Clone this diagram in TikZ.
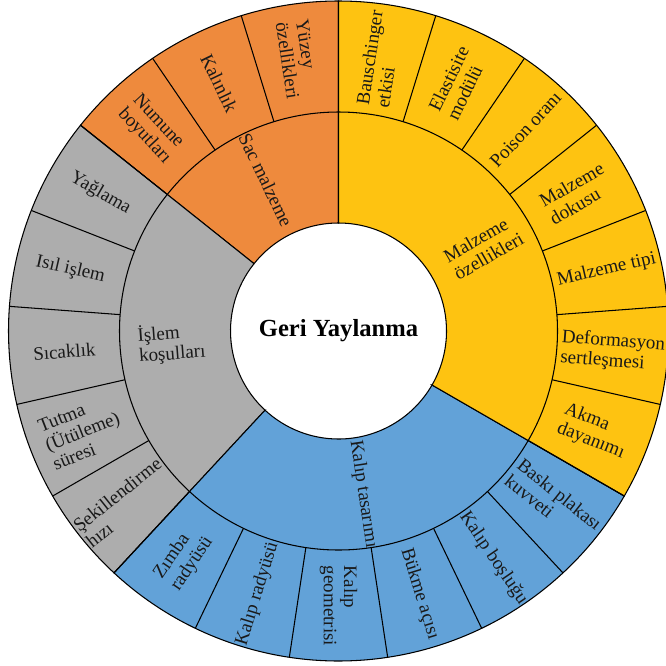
\documentclass[tikz,border=0pt]{standalone}
\usepackage{fontspec}
\setmainfont{Liberation Serif}
\usepackage{tikz}
\usetikzlibrary{positioning, calc}

\definecolor{sacorange}{HTML}{EE8A3D}
\definecolor{islemgray}{HTML}{ADADAD}
\definecolor{kalipblue}{HTML}{62A2D8}
\definecolor{malzyellow}{HTML}{FEC311}

\begin{document}
\begin{tikzpicture}[
    sector/.style={draw=black, line width=0.6pt},
    ringline/.style={draw=black, line width=0.6pt},
    leaflabel/.style={align=left, font=\fontsize{10.8}{11.6}\selectfont, text=black!90, inner sep=0pt},
    catlabel/.style={align=left, font=\fontsize{10.8}{11.6}\selectfont, text=black!90, inner sep=0pt},
    titlelabel/.style={font=\fontsize{14}{16}\selectfont\bfseries, text=black}
]
\useasboundingbox (-6.77,-6.68) rectangle (6.55,6.62);

\def\rinner{2.16}
\def\rmid{4.38}
\def\router{6.6}

% Sektoren
\filldraw[sector, fill=sacorange] (90:\rinner) -- (90:\router) arc[start angle=90, end angle=141.43, radius=\router] -- (141.43:\rinner) arc[start angle=141.43, end angle=90, radius=\rinner] -- cycle;
\filldraw[sector, fill=islemgray] (141.43:\rinner) -- (141.43:\router) arc[start angle=141.43, end angle=227.14, radius=\router] -- (227.14:\rinner) arc[start angle=227.14, end angle=141.43, radius=\rinner] -- cycle;
\filldraw[sector, fill=kalipblue] (227.14:\rinner) -- (227.14:\router) arc[start angle=227.14, end angle=330, radius=\router] -- (330:\rinner) arc[start angle=330, end angle=227.14, radius=\rinner] -- cycle;
\filldraw[sector, fill=malzyellow] (330:\rinner) -- (330:\router) arc[start angle=330, end angle=450, radius=\router] -- (450:\rinner) arc[start angle=450, end angle=330, radius=\rinner] -- cycle;

% Ringe und Trennlinien
\draw[ringline] (0,0) circle (\rmid);
\foreach \a in {1,...,20}
    \draw[ringline] ({90-\a*17.142857}:\rmid) -- ({90-\a*17.142857}:\router);

% Mitte
\node[titlelabel] (title) at (0,0) {Geri Yaylanma};

% innerer Ring
\node[catlabel, rotate=-64.29] (sac) at (115.71:3.35) {Sac malzeme};
\node[catlabel, rotate=4.29] (islem) at (184.29:3.35) {İşlem\\koşulları};
\node[catlabel, rotate=-81.43] (kalip) at (-81.43:3.3) {Kalıp tasarımı};
\node[catlabel, rotate=30] (malzeme) at (30:3.35) {Malzeme\\özellikleri};

% aeusserer Ring
\node[leaflabel, rotate=81.43] (bauschinger) at (81.43:5.5) {Bauschinger\\etkisi};
\node[leaflabel, rotate=64.29] (elastisite) at (64.29:5.5) {Elastisite\\modülü};
\node[leaflabel, rotate=47.14] (poison) at (47.14:5.5) {Poison oranı};
\node[leaflabel, rotate=30] (dokusu) at (30:5.5) {Malzeme\\dokusu};
\node[leaflabel, rotate=12.86] (tipi) at (12.86:5.5) {Malzeme tipi};
\node[leaflabel, rotate=-4.29] (deformasyon) at (-4.29:5.5) {Deformasyon\\sertleşmesi};
\node[leaflabel, rotate=-21.43] (akma) at (-21.43:5.5) {Akma\\dayanımı};
\node[leaflabel, rotate=-38.57] (baski) at (-38.57:5.5) {Baskı plakası\\kuvveti};
\node[leaflabel, rotate=-55.71] (bosluk) at (-55.71:5.5) {Kalıp boşluğu};
\node[leaflabel, rotate=-72.86] (bukme) at (-72.86:5.5) {Bükme açısı};
\node[leaflabel, rotate=-90] (geometri) at (-90:5.5) {Kalıp\\geometrisi};
\node[leaflabel, rotate=72.86] (kradyus) at (-107.14:5.5) {Kalıp radyüsü};
\node[leaflabel, rotate=55.71] (zradyus) at (-124.29:5.5) {Zımba\\radyüsü};
\node[leaflabel, rotate=38.57] (hiz) at (218.57:5.5) {Şekillendirme\\hızı};
\node[leaflabel, rotate=21.43] (tutma) at (201.43:5.5) {Tutma\\(Ütüleme)\\süresi};
\node[leaflabel, rotate=4.29] (sicaklik) at (184.29:5.5) {Sıcaklık};
\node[leaflabel, rotate=-12.86] (isil) at (167.14:5.5) {Isıl işlem};
\node[leaflabel, rotate=-30] (yaglama) at (150:5.5) {Yağlama};
\node[leaflabel, rotate=-47.14] (numune) at (132.86:5.5) {Numune\\boyutları};
\node[leaflabel, rotate=-64.29] (kalinlik) at (115.71:5.5) {Kalınlık};
\node[leaflabel, rotate=-81.43] (yuzey) at (98.57:5.5) {Yüzey\\özellikleri};

\end{tikzpicture}
\end{document}
